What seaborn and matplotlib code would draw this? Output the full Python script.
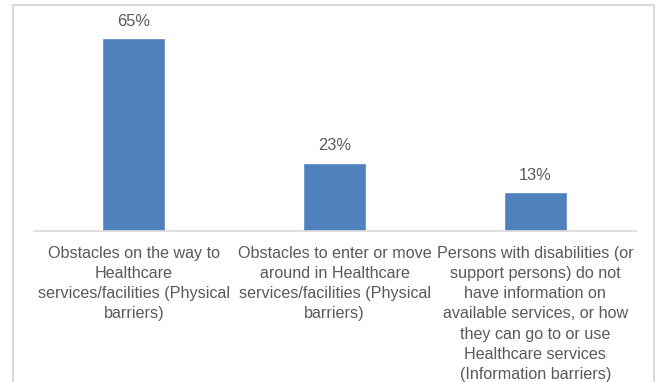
import matplotlib
matplotlib.use("Agg")
import matplotlib.pyplot as plt
from matplotlib.patches import Rectangle
import seaborn as sns
import pandas as pd

categories = [
    "Obstacles on the way to\nHealthcare\nservices/facilities (Physical\nbarriers)",
    "Obstacles to enter or move\naround in Healthcare\nservices/facilities (Physical\nbarriers)",
    "Persons with disabilities (or\nsupport persons) do not\nhave information on\navailable services, or how\nthey can go to or use\nHealthcare services\n(Information barriers)",
]
values = [65, 23, 13]

df = pd.DataFrame({"category": categories, "value": values})

sns.set_theme(style="white")
plt.rcParams["font.family"] = ["Liberation Sans", "DejaVu Sans"]

W, H = 657, 382
fig = plt.figure(figsize=(W / 100, H / 100), dpi=100)

# axes placement in pixels
x0, x1 = 33.5, 635.7
y_base, y_top = 230.7, 10.0
px_per_unit = (y_base - 38.0) / 65.0
ax = fig.add_axes([x0 / W, (H - y_base) / H, (x1 - x0) / W, (y_base - y_top) / H])

sns.barplot(data=df, x="category", y="value", color="#4F81BD", saturation=1,
            width=0.315, ax=ax)
ax.set_ylim(0, (y_base - y_top) / px_per_unit)
ax.set_xlim(-0.5, 2.5)

text_color = "#595959"
for cont in ax.containers:
    ax.bar_label(cont, fmt="%d%%", padding=6.5, fontsize=11.8, color=text_color)

for s in ["top", "right", "left"]:
    ax.spines[s].set_visible(False)
ax.spines["bottom"].set_color("#D9D9D9")
ax.spines["bottom"].set_linewidth(1.2)
ax.set_yticks([])
ax.set_xlabel("")
ax.set_ylabel("")
ax.tick_params(axis="x", length=0, pad=11, labelsize=11.6, labelcolor=text_color)
for lbl in ax.get_xticklabels():
    lbl.set_linespacing(1.43)
    lbl.set_multialignment("center")

# outer chart frame
fig.patches.append(Rectangle((13 / W, -0.05), (654 - 13) / W, (H - 5) / H + 0.05,
                             transform=fig.transFigure, fill=False,
                             edgecolor="#D9D9D9", linewidth=1.5))

fig.savefig("out.png", dpi=100)
